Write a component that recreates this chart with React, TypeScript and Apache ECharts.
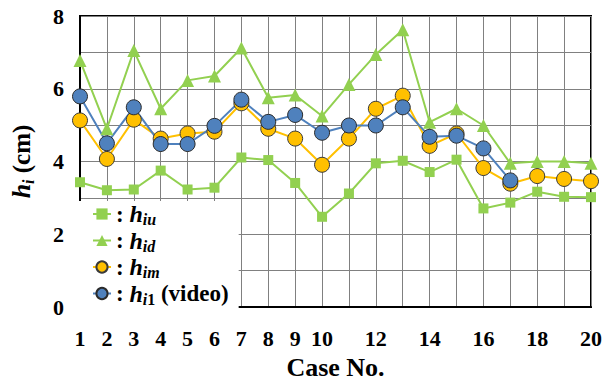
import React, { useEffect, useRef } from 'react';
import * as echarts from 'echarts';

const cases = [1, 2, 3, 4, 5, 6, 7, 8, 9, 10, 11, 12, 13, 14, 15, 16, 17, 18, 19, 20];
const hiu = [3.43, 3.21, 3.23, 3.75, 3.23, 3.28, 4.11, 4.04, 3.41, 2.48, 3.12, 3.95, 4.02, 3.71, 4.05, 2.71, 2.87, 3.17, 3.03, 3.02];
const hid = [6.78, 4.9, 7.05, 5.45, 6.23, 6.35, 7.12, 5.75, 5.83, 5.25, 6.12, 6.94, 7.62, 5.08, 5.45, 4.99, 3.95, 4.0, 4.0, 3.95];
const him = [5.13, 4.07, 5.15, 4.63, 4.77, 4.82, 5.6, 4.9, 4.63, 3.91, 4.63, 5.45, 5.81, 4.43, 4.77, 3.82, 3.39, 3.6, 3.52, 3.46];
const hi1: (number | null)[] = [5.79, 4.5, 5.49, 4.48, 4.48, 4.98, 5.7, 5.09, 5.28, 4.79, 4.99, 4.99, 5.49, 4.68, 4.71, 4.36, 3.48, null, null, null];

const seriesNames = ['hiu', 'hid', 'him', 'hi1'];
const legendTexts: Record<string, string> = {
  hiu: '{c|: }{h|h}{s|iu}',
  hid: '{c|: }{h|h}{s|id}',
  him: '{c|: }{h|h}{s|im}',
  hi1: '{c|: }{h|h}{s|i}{n|1}{c| (video)}',
};

const F = 'Liberation Serif';

export default function App() {
  const ref = useRef<HTMLDivElement>(null);
  useEffect(() => {
    const chart = echarts.init(ref.current!, null, { renderer: 'svg' });
    const rich = {
      c: { fontFamily: F, fontWeight: 'bold', fontSize: 23, lineHeight: 27, color: '#000' },
      h: { fontFamily: F, fontWeight: 'bold', fontStyle: 'italic', fontSize: 24, lineHeight: 27, color: '#000' },
      s: { fontFamily: F, fontWeight: 'bold', fontStyle: 'italic', fontSize: 16, lineHeight: 16, verticalAlign: 'bottom', color: '#000' },
      n: { fontFamily: F, fontWeight: 'bold', fontSize: 16, lineHeight: 16, verticalAlign: 'bottom', color: '#000' },
    };
    const pair = (arr: (number | null)[]) => cases.map((c, i) => [c, arr[i] == null ? '-' : arr[i]]);
    const green = '#92D050';
    const orange = '#FFC000';
    const blue = '#4F81BD';
    chart.setOption({
      animation: false,
      backgroundColor: '#fff',
      grid: { left: 77, right: 13, top: 16, bottom: 74, show: true, borderColor: '#000', borderWidth: 2 },
      legend: {
        data: seriesNames,
        orient: 'vertical',
        left: 78,
        top: 201,
        backgroundColor: '#fff',
        padding: [1, 10, 2, 14],
        itemWidth: 18,
        itemHeight: 14,
        itemGap: 1,
        formatter: (name: string) => legendTexts[name],
        textStyle: { rich },
      },
      xAxis: {
        type: 'value',
        min: 1,
        max: 20,
        interval: 1,
        axisLine: { show: true, lineStyle: { color: '#000', width: 2 } },
        axisTick: { show: false },
        axisLabel: {
          formatter: (v: number) => (v <= 10 || v % 2 === 0 ? String(v) : ''),
          fontFamily: F, fontWeight: 'bold', fontSize: 22, color: '#000', margin: 20,
        },
        splitLine: { show: true, lineStyle: { color: '#808080', width: 1 } },
        name: 'Case No.',
        nameLocation: 'middle',
        nameGap: 47,
        nameTextStyle: { fontFamily: F, fontWeight: 'bold', fontSize: 26, color: '#000' },
      },
      yAxis: {
        type: 'value',
        min: 0,
        max: 8,
        interval: 1,
        axisLine: { show: true, lineStyle: { color: '#000', width: 2 } },
        axisTick: { show: false },
        axisLabel: {
          formatter: (v: number) => (v % 2 === 0 ? String(v) : ''),
          fontFamily: F, fontWeight: 'bold', fontSize: 22, color: '#000', margin: 16,
        },
        splitLine: { show: true, lineStyle: { color: '#808080', width: 1 } },
        name: '{h|h}{s|i}{c| (cm)}',
        nameLocation: 'middle',
        nameRotate: 90,
        nameGap: 44,
        nameTextStyle: {
          rich: {
            h: { fontFamily: F, fontWeight: 'bold', fontStyle: 'italic', fontSize: 26, lineHeight: 30, color: '#000' },
            s: { fontFamily: F, fontWeight: 'bold', fontStyle: 'italic', fontSize: 16, lineHeight: 16, verticalAlign: 'bottom', color: '#000' },
            c: { fontFamily: F, fontWeight: 'bold', fontSize: 25, lineHeight: 30, color: '#000' },
          },
        },
      },
      series: [
        {
          name: 'hiu', type: 'line', data: pair(hiu), symbol: 'rect', symbolSize: 10,
          lineStyle: { color: green, width: 2 }, itemStyle: { color: green },
        },
        {
          name: 'hid', type: 'line', data: pair(hid), symbol: 'triangle', symbolSize: 13,
          lineStyle: { color: green, width: 2 }, itemStyle: { color: green },
        },
        {
          name: 'him', type: 'line', data: pair(him), symbol: 'circle', symbolSize: 15,
          lineStyle: { color: orange, width: 2 }, itemStyle: { color: orange, borderColor: '#3a3a3a', borderWidth: 1 },
        },
        {
          name: 'hi1', type: 'line', data: pair(hi1), symbol: 'circle', symbolSize: 15,
          lineStyle: { color: blue, width: 2 }, itemStyle: { color: blue, borderColor: '#2a2a2a', borderWidth: 1 },
        },
      ],
    });
    return () => chart.dispose();
  }, []);
  return <div ref={ref} style={{ position: 'absolute', left: 0, top: 0, width: 605, height: 385 }} />;
}
